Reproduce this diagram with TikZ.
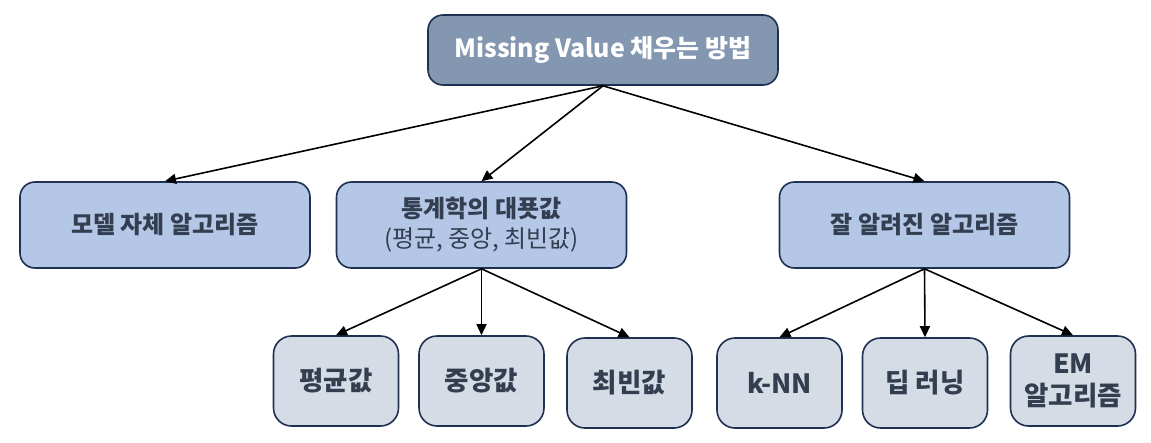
\documentclass[tikz,border=0pt]{standalone}
\usepackage{fontspec}
\setmainfont{Noto Sans CJK KR}
\usetikzlibrary{arrows.meta}
\definecolor{topfill}{HTML}{8497B0}
\definecolor{midfill}{HTML}{B4C7E7}
\definecolor{lowfill}{HTML}{D6DCE5}
\definecolor{edge}{HTML}{1F3050}
\definecolor{txt}{HTML}{333F50}
\tikzset{
  box/.style={draw=edge, line width=1.6pt, rounded corners=15pt, inner sep=0pt, align=center, text=txt, font=\fontsize{24}{30}\selectfont\bfseries},
  topbox/.style={box, fill=topfill, text=white, minimum width=350pt, minimum height=70pt, font=\fontsize{25}{30}\selectfont\bfseries},
  midbox/.style={box, fill=midfill, minimum width=290pt, minimum height=86pt},
  lowbox/.style={box, fill=lowfill, minimum width=125pt, minimum height=90pt, rounded corners=18pt, font=\fontsize{26.5}{32}\selectfont\bfseries},
  conn/.style={line width=1.6pt, -{Triangle[length=11pt,width=10pt]}}
}
\begin{document}
\begin{tikzpicture}[x=1pt,y=-1pt]
\useasboundingbox (0,0) rectangle (1151,442);
\node[topbox] (top) at (603,50) {Missing Value 채우는 방법};
\node[midbox] (l) at (165,225) {모델 자체 알고리즘};
\node[midbox] (m) at (481.5,225) {통계학의 대푯값\\{\mdseries (평균, 중앙, 최빈값)}};
\node[midbox] (r) at (924.5,225) {잘 알려진 알고리즘};
\node[lowbox] (a) at (336,381) {평균값};
\node[lowbox] (b) at (481.5,381) {중앙값};
\node[lowbox] (c) at (629.5,383) {최빈값};
\node[lowbox] (d) at (779.5,383) {k-NN};
\node[lowbox] (e) at (925,383) {딥 러닝};
\node[lowbox] (f) at (1073,381) {EM\\알고리즘};
\draw[conn] (top.south) -- (l.north);
\draw[conn] (top.south) -- (m.north);
\draw[conn] (top.south) -- (r.north);
\draw[conn] (m.south) -- (a.north);
\draw[conn] (m.south) -- (b.north);
\draw[conn] (m.south) -- (c.north);
\draw[conn] (r.south) -- (d.north);
\draw[conn] (r.south) -- (e.north);
\draw[conn] (r.south) -- (f.north);
\end{tikzpicture}
\end{document}
